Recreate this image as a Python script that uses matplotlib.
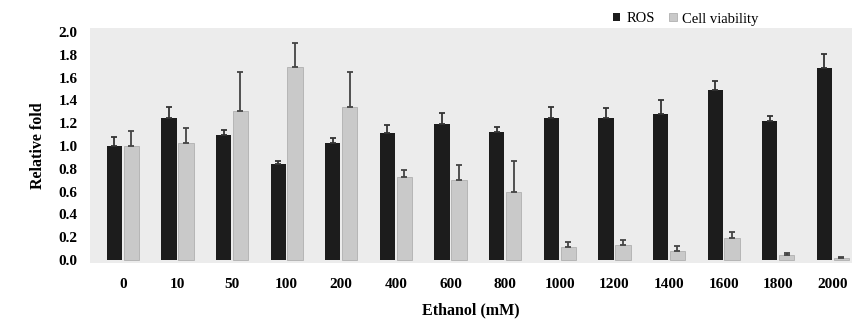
import matplotlib
matplotlib.use("Agg")
import matplotlib.pyplot as plt
import numpy as np

categories = ["0", "10", "50", "100", "200", "400", "600", "800", "1000",
              "1200", "1400", "1600", "1800", "2000"]
ros = [1.00, 1.25, 1.10, 0.84, 1.03, 1.11, 1.19, 1.12, 1.25, 1.25, 1.28, 1.49, 1.22, 1.68]
ros_err = [0.08, 0.09, 0.04, 0.03, 0.04, 0.07, 0.10, 0.05, 0.09, 0.08, 0.12, 0.08, 0.04, 0.13]
viab = [1.00, 1.03, 1.31, 1.69, 1.34, 0.73, 0.70, 0.60, 0.11, 0.13, 0.08, 0.19, 0.04, 0.02]
viab_err = [0.13, 0.13, 0.34, 0.21, 0.31, 0.06, 0.13, 0.27, 0.05, 0.05, 0.04, 0.06, 0.02, 0.01]
yticks = [0.0, 0.2, 0.4, 0.6, 0.8, 1.0, 1.2, 1.4, 1.6, 1.8, 2.0]

serif = ["Liberation Serif", "DejaVu Serif"]

fig = plt.figure(figsize=(8.56, 3.32), dpi=100)
ax = fig.add_axes([90/856, 1-263/332, (852-90)/856, (263-28)/332])
ax.set_facecolor("#ececec")

x = np.arange(len(categories))
w = 0.28
ax.bar(x - 0.155, ros, w, color="#1c1c1c", yerr=[np.zeros(len(ros)), ros_err],
       error_kw=dict(ecolor="#333333", capsize=2, elinewidth=1.3, capthick=1.3), label="ROS", zorder=2)
ax.bar(x + 0.155, viab, w, color="#c9c9c9", edgecolor="#b0b0b0", linewidth=0.6,
       yerr=[np.zeros(len(viab)), viab_err],
       error_kw=dict(ecolor="#444444", capsize=2, elinewidth=1.3, capthick=1.3),
       label="Cell viability", zorder=2)

ax.set_xlim(-0.60, 13.35)
ax.set_ylim(-0.026, 2.035)
ax.set_yticks(yticks)
ax.set_yticklabels([f"{t:.1f}" for t in yticks], fontfamily=serif, fontweight="bold", fontsize=11)
ax.set_xticks(x)
ax.set_xticklabels(categories, fontfamily=serif, fontweight="bold", fontsize=11)
ax.tick_params(axis="both", length=0)
ax.tick_params(axis="x", pad=11)
ax.tick_params(axis="y", pad=9)
for s in ax.spines.values():
    s.set_visible(False)

ax.set_ylabel("Relative fold", fontfamily=serif, fontweight="bold", fontsize=11.5, labelpad=9)
ax.set_xlabel("Ethanol (mM)", fontfamily=serif, fontweight="bold", fontsize=11.5, labelpad=8)

fig.legend(loc="center left", bbox_to_anchor=(613/856, 1-19/332), ncol=2, frameon=False,
           prop=dict(family=serif, size=10.5), handlelength=0.5, handleheight=0.5,
           handletextpad=0.4, columnspacing=1.0, borderaxespad=0, borderpad=0)

fig.savefig("out.png", dpi=100)
